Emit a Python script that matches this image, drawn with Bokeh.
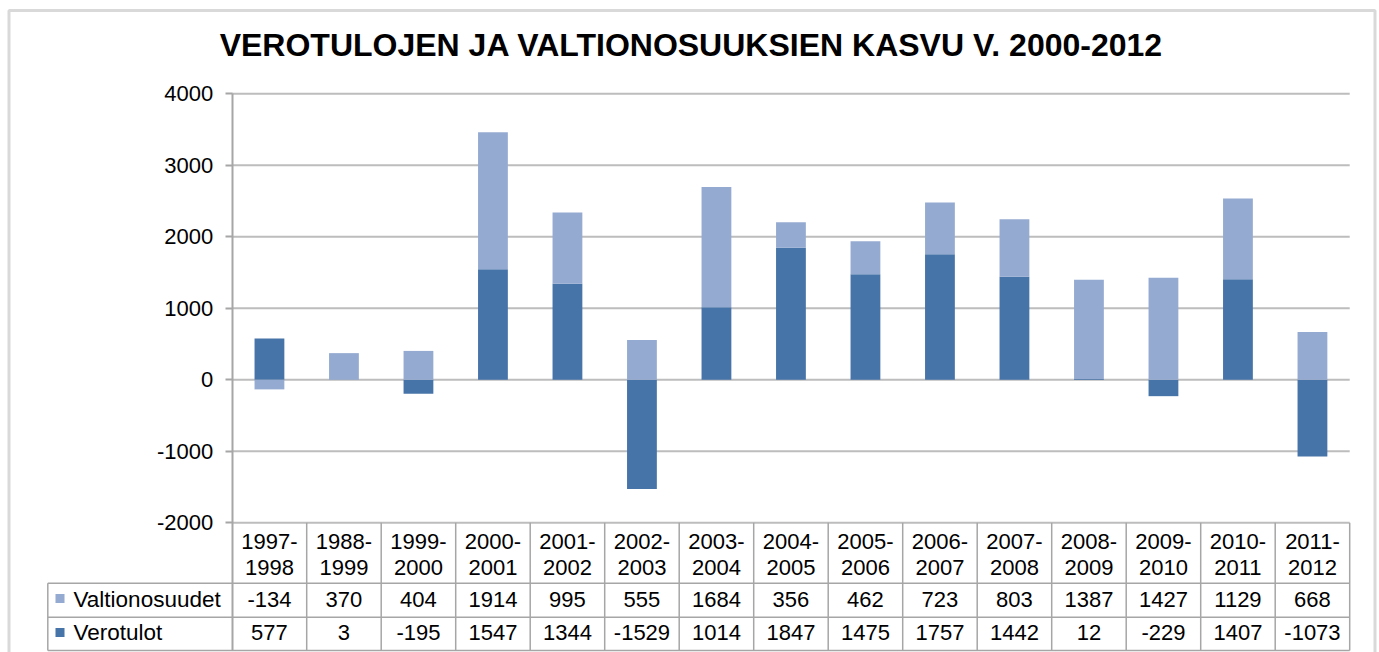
from bokeh.plotting import figure
from bokeh.models import Range1d, FixedTicker, Label, BoxAnnotation, ColumnDataSource, PrintfTickFormatter
from bokeh.core.properties import value
from bokeh.embed import file_html
from bokeh.resources import INLINE

# ---------------- data ----------------
periods = ["1997-1998", "1988-1999", "1999-2000", "2000-2001", "2001-2002",
           "2002-2003", "2003-2004", "2004-2005", "2005-2006", "2006-2007",
           "2007-2008", "2008-2009", "2009-2010", "2010-2011", "2011-2012"]
valtionosuudet = [-134, 370, 404, 1914, 995, 555, 1684, 356, 462, 723, 803, 1387, 1427, 1129, 668]
verotulot = [577, 3, -195, 1547, 1344, -1529, 1014, 1847, 1475, 1757, 1442, 12, -229, 1407, -1073]
series_names = ["Valtionosuudet", "Verotulot"]
y_ticks = [-2000, -1000, 0, 1000, 2000, 3000, 4000]
title_text = "VEROTULOJEN JA VALTIONOSUUKSIEN KASVU V. 2000-2012"

# ---------------- layout (page pixels) ----------------
W, H = 1379, 652
AX_X = 231.7          # x of value axis
COL_W = 74.5          # width of one category column
TOP_PX = 93.3         # pixel of y = 4000
PPU = 0.0715          # pixels per unit
N = len(periods)

DARK = "#4673A8"
LIGHT = "#94AAD1"
GRID = "#BDBDBD"
TBL = "#A6A6A6"
FONT = "Liberation Sans"

x_start = -AX_X / COL_W
x_end = (W - AX_X) / COL_W
y_end = y_ticks[-1] + TOP_PX / PPU
y_start = y_end - H / PPU


def py(px):
    return y_end - px / PPU


p = figure(width=W, height=H, output_backend="svg", toolbar_location=None,
           x_range=Range1d(x_start, x_end), y_range=Range1d(y_start, y_end),
           x_axis_location=None, min_border=0, outline_line_color=None,
           background_fill_color="white", border_fill_color="white")
p.extra_x_ranges = {"px": Range1d(0, W)}
p.extra_y_ranges = {"px": Range1d(H, 0)}
p.xgrid.visible = False
p.ygrid.visible = False

# ---------------- stacking ----------------
xs = [i + 0.5 for i in range(N)]
vb = [0] * N
vt = verotulot
lb, lt = [], []
for v, t in zip(verotulot, valtionosuudet):
    base = max(v, 0) if t >= 0 else min(v, 0)
    lb.append(base)
    lt.append(base + t)

# gridlines
p.segment(x0=[0] * len(y_ticks), x1=[N] * len(y_ticks), y0=y_ticks, y1=y_ticks,
          line_color=GRID, line_width=2)

p.vbar(x=xs, bottom=vb, top=vt, width=0.4, fill_color=DARK, line_color=None)
p.vbar(x=xs, bottom=lb, top=lt, width=0.4, fill_color=LIGHT, line_color=None)

# ---------------- value axis ----------------
yax = p.yaxis[0]
yax.fixed_location = 0
yax.ticker = FixedTicker(ticks=y_ticks)
yax.formatter = PrintfTickFormatter(format="%d")
yax.minor_tick_line_color = None
yax.major_tick_in = 0
yax.major_tick_out = 7
yax.major_label_standoff = 12
yax.axis_line_color = TBL
yax.axis_line_width = 2
yax.major_tick_line_color = TBL
yax.major_tick_line_width = 2
yax.major_label_text_font = FONT
yax.major_label_text_font_size = "22px"
yax.major_label_text_color = "black"

# ---------------- data table ----------------
HDR_TOP, ROW1, ROW2, ROW3 = 522.3, 582.7, 616.7, 650.0
LEG_LEFT = 47.3
TBL_RIGHT = AX_X + N * COL_W
yax.bounds = (py(ROW3), y_ticks[-1])

# column boundaries
p.segment(x0=list(range(1, N + 1)), x1=list(range(1, N + 1)),
          y0=[HDR_TOP] * N, y1=[ROW3] * N, y_range_name="px",
          line_color=TBL, line_width=1.5)
# row lines
p.segment(x0=[LEG_LEFT] * 3, x1=[TBL_RIGHT] * 3, y0=[ROW1, ROW2, ROW3], y1=[ROW1, ROW2, ROW3],
          x_range_name="px", y_range_name="px", line_color=TBL, line_width=1.5)
p.segment(x0=[LEG_LEFT], x1=[LEG_LEFT], y0=[ROW1], y1=[ROW3],
          x_range_name="px", y_range_name="px", line_color=TBL, line_width=1.5)

first = [s.split("-")[0] + "-" for s in periods]
second = [s.split("-")[1] for s in periods]
hdr = ColumnDataSource(dict(x=xs, y1=[541] * N, y2=[566.5] * N, a=first, b=second,
                            r1=[str(v) for v in valtionosuudet],
                            r2=[str(v) for v in verotulot],
                            yr1=[599] * N, yr2=[632] * N))
for ycol, tcol in (("y1", "a"), ("y2", "b"), ("yr1", "r1"), ("yr2", "r2")):
    p.text(x="x", y=ycol, text=tcol, source=hdr, y_range_name="px",
           text_font=value(FONT), text_font_size="22px", text_color="black",
           text_align="center", text_baseline="middle")

# legend keys in table
p.rect(x=[59.5, 59.5], y=[598, 632], width=9, height=9,
       x_range_name="px", y_range_name="px", fill_color=[LIGHT, DARK], line_color=None)
p.text(x=[73, 73], y=[599, 632], text=series_names, x_range_name="px", y_range_name="px",
       text_font=value(FONT), text_font_size="22.5px", text_color="black",
       text_align="left", text_baseline="middle")

# ---------------- title ----------------
p.add_layout(Label(x=691, y=44.5, text=title_text, x_range_name="px", y_range_name="px",
                   text_font=FONT, text_font_size="32px", text_font_style="bold",
                   text_color="black", text_align="center", text_baseline="middle"))

# ---------------- chart border ----------------
p.add_layout(BoxAnnotation(left=8.5, right=1374.5, top=10, bottom=H + 20,
                           x_range_name="px", y_range_name="px",
                           fill_alpha=0, line_color="#808080", line_width=3))

open("out.html", "w").write(file_html(p, INLINE))
